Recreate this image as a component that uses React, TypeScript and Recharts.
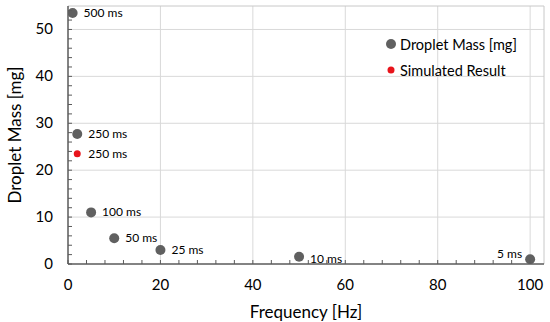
import React from 'react';
import {
  ScatterChart, Scatter, XAxis, YAxis, ReferenceLine, LabelList,
} from 'recharts';

const frequencies = [1, 2, 5, 10, 20, 50, 100];
const masses = [53.5, 27.7, 11, 5.5, 3, 1.55, 1.0];
const pulseLabels = ['500 ms', '250 ms', '100 ms', '50 ms', '25 ms', '10 ms', '5 ms'];

const simFrequencies = [2];
const simMasses = [23.5];
const simLabels = ['250 ms'];

const seriesNames = ['Droplet Mass [mg]', 'Simulated Result'];
const xTitle = 'Frequency [Hz]';
const yTitle = 'Droplet Mass [mg]';

const xMajorTicks = [0, 20, 40, 60, 80, 100];
const xMinorTicks = [0, 4, 8, 12, 16, 20, 24, 28, 32, 36, 40, 44, 48, 52, 56, 60, 64, 68, 72, 76, 80, 84, 88, 92, 96, 100];
const yMajorTicks = [0, 10, 20, 30, 40, 50];
const yMinorTicks = [0, 2, 4, 6, 8, 10, 12, 14, 16, 18, 20, 22, 24, 26, 28, 30, 32, 34, 36, 38, 40, 42, 44, 46, 48, 50, 52, 54];
const xMax = 103;
const yMax = 55;

const measured = frequencies.map((f, i) => ({ x: f, y: masses[i], label: pulseLabels[i] }));
const simulated = simFrequencies.map((f, i) => ({ x: f, y: simMasses[i], label: simLabels[i] }));

const FONT = 'Lato, "Open Sans", sans-serif';
const GRAY = '#606060';
const RED = '#e8141b';
const AXIS = '#5a5a5a';
const GRID = '#d9d9d9';

const XTick = (props: any) => {
  const { x, y, payload } = props;
  const major = xMajorTicks.includes(payload.value);
  return (
    <g>
      <line x1={x} x2={x} y1={y} y2={y - 4} stroke={AXIS} strokeWidth={1} />
      {major && (
        <text x={x} y={y + 26} textAnchor="middle" fontSize={15} fill="#000" fontFamily={FONT}>
          {payload.value}
        </text>
      )}
    </g>
  );
};

const YTick = (props: any) => {
  const { x, y, payload } = props;
  const major = yMajorTicks.includes(payload.value);
  return (
    <g>
      <line x1={x} x2={x + 4} y1={y} y2={y} stroke={AXIS} strokeWidth={1} />
      {major && (
        <text x={x - 15} y={y + 5} textAnchor="end" fontSize={15} fill="#000" fontFamily={FONT}>
          {payload.value}
        </text>
      )}
    </g>
  );
};

const YTitle = (props: any) => {
  const vb = props.viewBox || { x: 0, y: 0, width: 0, height: 0 };
  const cx = 14;
  const cy = vb.y + vb.height / 2;
  return (
    <text x={cx} y={cy} transform={`rotate(-90 ${cx} ${cy})`} textAnchor="middle" dominantBaseline="central"
      fontSize={17} fill="#000" fontFamily={FONT}>
      {yTitle}
    </text>
  );
};

const PointLabel = (props: any) => {
  const { x, y, value, width, height } = props;
  const cx = x + (width || 0) / 2;
  const cy = y + (height || 0) / 2;
  const isLast = value === pulseLabels[pulseLabels.length - 1];
  const isTen = value === '10 ms';
  if (isLast) {
    return (
      <text x={cx - 8} y={cy - 1} textAnchor="end" fontSize={12} fill="#000" fontFamily={FONT}>
        {value}
      </text>
    );
  }
  return (
    <text x={cx + 11} y={cy + (isTen ? 6 : 4)} textAnchor="start" fontSize={12} fill="#000" fontFamily={FONT}>
      {value}
    </text>
  );
};

const legendColors = [GRAY, RED];
const legendRadii = [5, 3.5];

export default function App() {
  return (
    <div style={{ position: 'absolute', left: 0, top: 0, background: '#fff', width: 550, height: 322 }}>
      <ScatterChart width={550} height={322} margin={{ top: 6, right: 6, bottom: 0, left: 0 }}>
        {xMajorTicks.filter((t) => t > 0).map((t) => (
          <ReferenceLine key={'vx' + t} x={t} stroke={GRID} strokeWidth={1} ifOverflow="visible" />
        ))}
        {yMajorTicks.filter((t) => t > 0).map((t) => (
          <ReferenceLine key={'hy' + t} y={t} stroke={GRID} strokeWidth={1} ifOverflow="visible" />
        ))}
        <ReferenceLine x={xMax} stroke="#c8c8c8" strokeWidth={1} />
        <ReferenceLine y={yMax} stroke="#c8c8c8" strokeWidth={1} />
        <XAxis
          type="number"
          dataKey="x"
          domain={[0, xMax]}
          ticks={xMinorTicks}
          interval={0}
          tickSize={0}
          tickMargin={0}
          tick={<XTick />}
          axisLine={{ stroke: AXIS, strokeWidth: 1.5 }}
          height={58}
          allowDataOverflow
          label={{ value: xTitle, position: 'insideBottom', offset: 4, fontSize: 17, fill: '#000', fontFamily: FONT }}
        />
        <YAxis
          type="number"
          dataKey="y"
          domain={[0, yMax]}
          ticks={yMinorTicks}
          interval={0}
          tickSize={0}
          tickMargin={0}
          tick={<YTick />}
          axisLine={{ stroke: AXIS, strokeWidth: 1.5 }}
          width={68}
          allowDataOverflow
          label={<YTitle />}
        />
        <Scatter name={seriesNames[0]} data={measured} fill={GRAY} isAnimationActive={false}
          shape={(p: any) => <circle cx={p.cx} cy={p.cy} r={5} fill={GRAY} />}>
          <LabelList dataKey="label" content={<PointLabel />} />
        </Scatter>
        <Scatter name={seriesNames[1]} data={simulated} fill={RED} isAnimationActive={false}
          shape={(p: any) => <circle cx={p.cx} cy={p.cy} r={3.5} fill={RED} />}>
          <LabelList dataKey="label" content={<PointLabel />} />
        </Scatter>
      </ScatterChart>
      <div style={{ position: 'absolute', left: 384, top: 31, fontFamily: FONT, fontSize: 14.5, color: '#000' }}>
        {seriesNames.map((n, i) => (
          <div key={n} style={{ display: 'flex', alignItems: 'center', height: 26 }}>
            <svg width={16} height={14}>
              <circle cx={7} cy={7} r={legendRadii[i]} fill={legendColors[i]} />
            </svg>
            <span>{n}</span>
          </div>
        ))}
      </div>
    </div>
  );
}
